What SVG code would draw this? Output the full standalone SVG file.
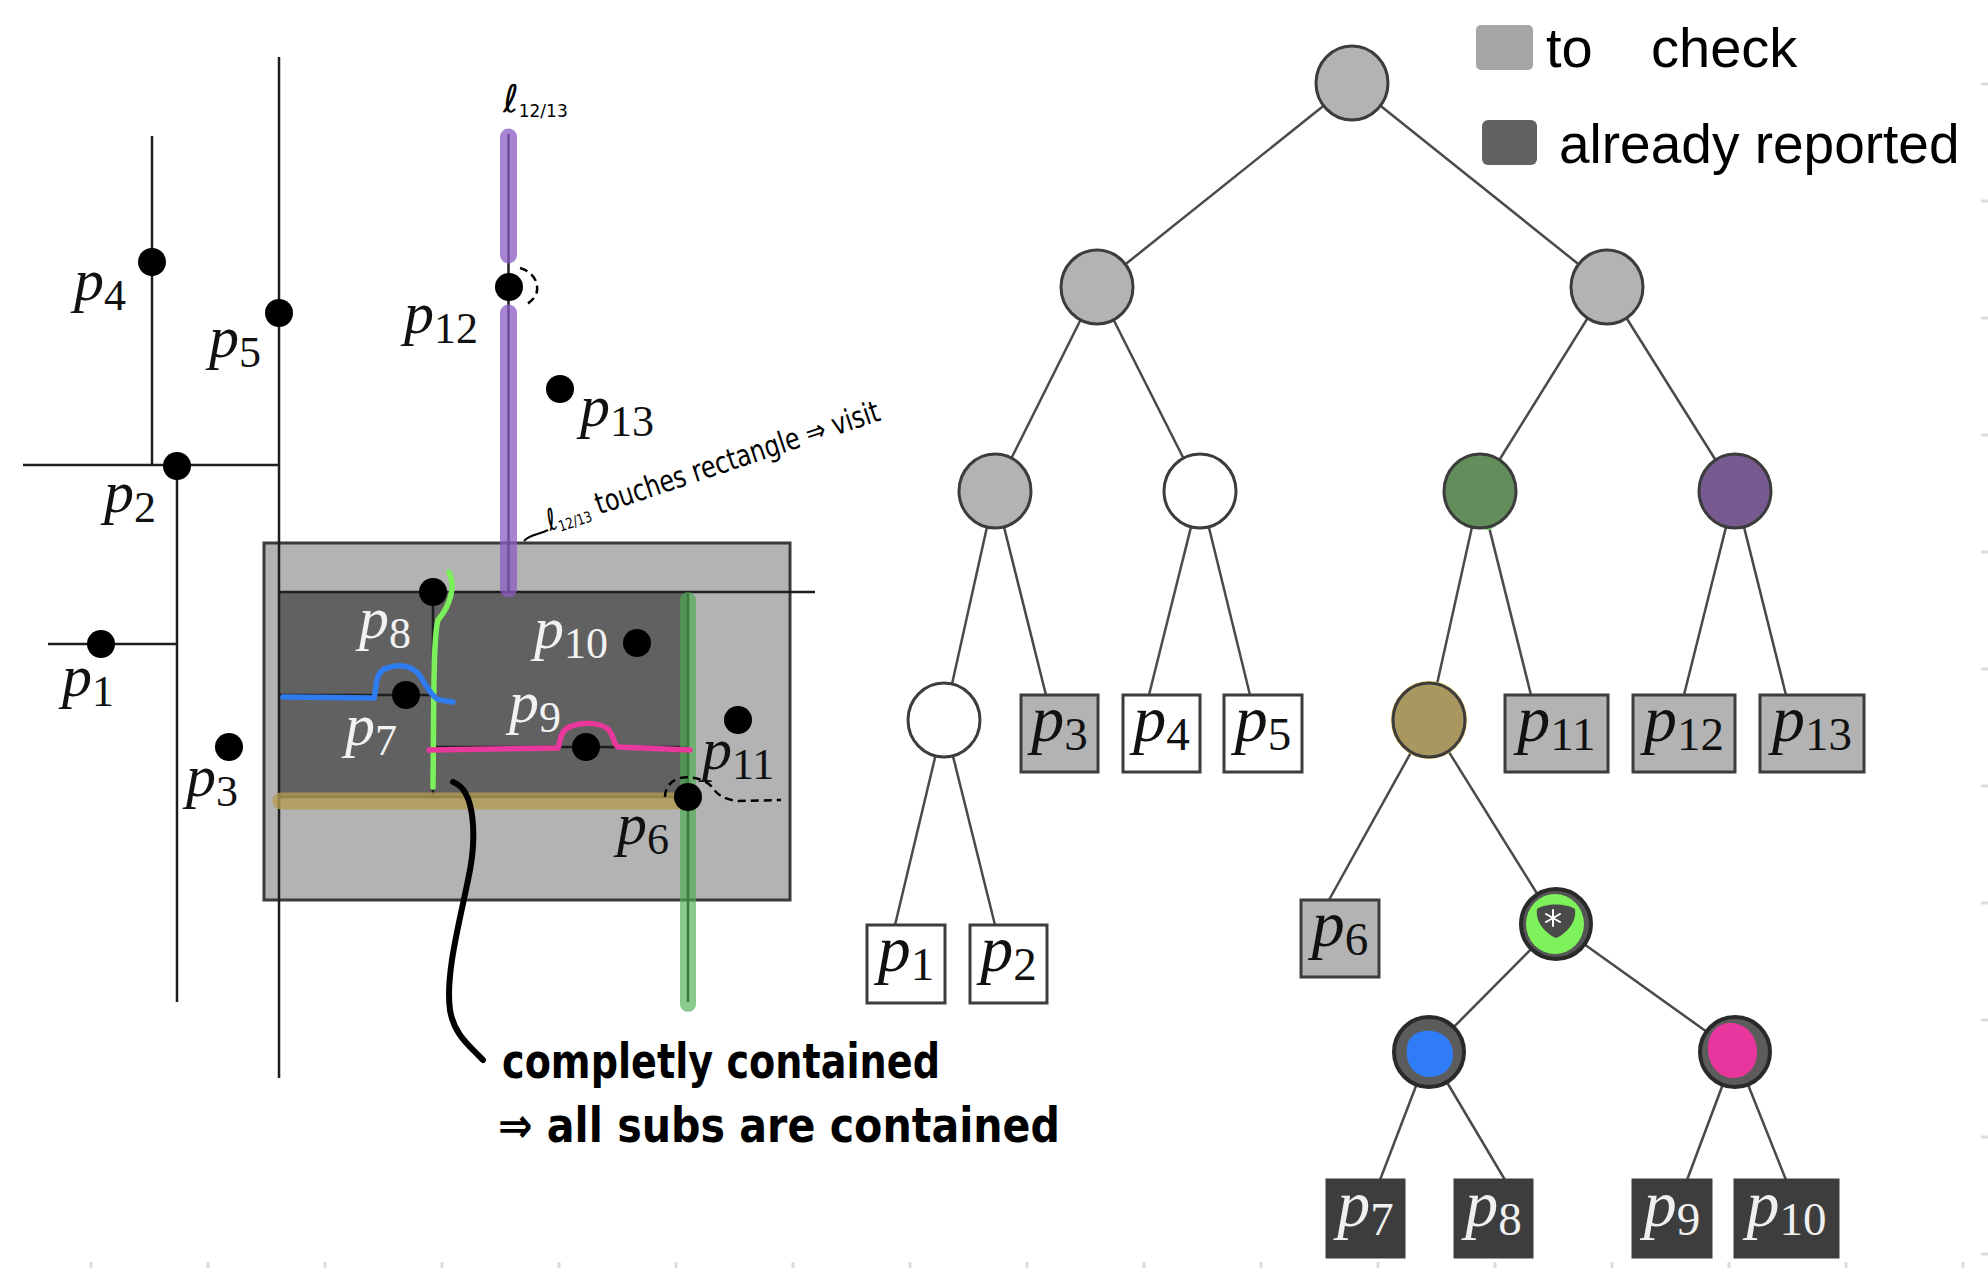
<svg xmlns="http://www.w3.org/2000/svg" width="1988" height="1268" viewBox="0 0 1988 1268">
<style>
.ln{stroke:#1e1e1e;stroke-width:2.5;fill:none}
.edge{stroke:#4a4a4a;stroke-width:2.5}
.pt{fill:#000}
.lbl{font-family:"Liberation Serif",serif;font-size:60px;fill:#111}
.lbl.w{fill:#f2f2f2}
.it{font-style:italic}
.sub{font-size:44px}
.bl{font-family:"Liberation Serif",serif;font-size:66px;fill:#111;text-anchor:middle}
.bl.w{fill:#f0f0f0}
.bsub{font-size:47px}
.node{stroke:#3c3c3c;stroke-width:3}
.gray{fill:#b3b3b3}
.white{fill:#fff}
.dark{fill:#3d3d3d}
.hw{font-family:"DejaVu Sans",sans-serif;fill:#000}
.lg{font-family:"Liberation Sans",Arial,sans-serif;fill:#000}
.dash{stroke:#000;stroke-width:2.5;fill:none;stroke-dasharray:8 5}
.tick{stroke:#dcdcdc;stroke-width:3}
</style>
<rect width="1988" height="1268" fill="#fff"/>

<!-- faint notebook ticks -->
<g id="ticks">
<line class="tick" x1="91" y1="1262" x2="91" y2="1268"/><line class="tick" x1="208" y1="1262" x2="208" y2="1268"/><line class="tick" x1="325" y1="1262" x2="325" y2="1268"/><line class="tick" x1="442" y1="1262" x2="442" y2="1268"/><line class="tick" x1="559" y1="1262" x2="559" y2="1268"/><line class="tick" x1="676" y1="1262" x2="676" y2="1268"/><line class="tick" x1="793" y1="1262" x2="793" y2="1268"/><line class="tick" x1="910" y1="1262" x2="910" y2="1268"/><line class="tick" x1="1027" y1="1262" x2="1027" y2="1268"/><line class="tick" x1="1144" y1="1262" x2="1144" y2="1268"/><line class="tick" x1="1261" y1="1262" x2="1261" y2="1268"/><line class="tick" x1="1378" y1="1262" x2="1378" y2="1268"/><line class="tick" x1="1495" y1="1262" x2="1495" y2="1268"/><line class="tick" x1="1612" y1="1262" x2="1612" y2="1268"/><line class="tick" x1="1729" y1="1262" x2="1729" y2="1268"/><line class="tick" x1="1846" y1="1262" x2="1846" y2="1268"/><line class="tick" x1="1963" y1="1262" x2="1963" y2="1268"/>
<line class="tick" x1="1981" y1="84" x2="1988" y2="84"/><line class="tick" x1="1981" y1="201" x2="1988" y2="201"/><line class="tick" x1="1981" y1="318" x2="1988" y2="318"/><line class="tick" x1="1981" y1="435" x2="1988" y2="435"/><line class="tick" x1="1981" y1="552" x2="1988" y2="552"/><line class="tick" x1="1981" y1="669" x2="1988" y2="669"/><line class="tick" x1="1981" y1="786" x2="1988" y2="786"/><line class="tick" x1="1981" y1="903" x2="1988" y2="903"/><line class="tick" x1="1981" y1="1020" x2="1988" y2="1020"/><line class="tick" x1="1981" y1="1137" x2="1988" y2="1137"/><line class="tick" x1="1981" y1="1254" x2="1988" y2="1254"/>
</g>

<!-- ============ LEFT: kd subdivision ============ -->
<g id="subdivision">
<rect x="264" y="543" width="526" height="357" fill="#b3b3b3" stroke="#3a3a3a" stroke-width="3"/>
<rect x="279" y="592" width="409" height="205" fill="#616161"/>
<line class="ln" x1="279" y1="57" x2="279" y2="1078"/>
<line class="ln" x1="152" y1="136" x2="152" y2="465"/>
<line class="ln" x1="23" y1="465" x2="279" y2="465"/>
<line class="ln" x1="177" y1="465" x2="177" y2="1002"/>
<line class="ln" x1="48" y1="644" x2="177" y2="644"/>
<line class="ln" x1="279" y1="592" x2="815" y2="592"/>
<line class="ln" x1="688" y1="592" x2="688" y2="1002"/>
<line class="ln" x1="279" y1="797" x2="688" y2="797"/>
<line class="ln" x1="433" y1="592" x2="433" y2="797"/>
<line class="ln" x1="279" y1="695" x2="433" y2="695"/>
<line class="ln" x1="433" y1="747" x2="688" y2="747"/>
<line class="ln" x1="508.5" y1="134" x2="508.5" y2="592"/>
</g>

<g id="highlights">
<g stroke="#8a5cc4" stroke-opacity="0.75" stroke-width="17" stroke-linecap="round">
<line x1="508.5" y1="137" x2="508.5" y2="255"/>
<line x1="508.5" y1="313" x2="508.5" y2="589"/>
</g>
<line x1="688" y1="600" x2="688" y2="1004" stroke="#4caf50" stroke-opacity="0.65" stroke-width="16" stroke-linecap="round"/>
<line x1="281" y1="801" x2="692" y2="801" stroke="#b39b50" stroke-opacity="0.8" stroke-width="17" stroke-linecap="round"/>
<path d="M449,572 C456,586 450,606 438,620 C433,640 434,700 433,787" stroke="#7cf05a" stroke-width="5.5" fill="none" stroke-linecap="round"/>
<path d="M283,697 L374,698 C377,688 374,672 387,668 C396,665 408,664 418,673 C424,681 428,692 437,699 C443,701 448,701 453,702" stroke="#2f7cf0" stroke-width="5.5" fill="none" stroke-linecap="round"/>
<path d="M429,750 L558,748 C561,741 559,730 572,726 C583,722 598,722 608,729 C614,735 613,744 618,747 L690,750" stroke="#e8389c" stroke-width="5.5" fill="none" stroke-linecap="round"/>
</g>

<g id="points">
<circle class="pt" cx="152" cy="262" r="14"/>
<circle class="pt" cx="279" cy="313" r="14"/>
<circle class="pt" cx="509" cy="287" r="14"/>
<circle class="pt" cx="560" cy="389" r="14"/>
<circle class="pt" cx="177" cy="466" r="14"/>
<circle class="pt" cx="101" cy="644" r="14"/>
<circle class="pt" cx="229" cy="747" r="14"/>
<circle class="pt" cx="433" cy="592" r="14"/>
<circle class="pt" cx="637" cy="643" r="14"/>
<circle class="pt" cx="406" cy="695" r="14"/>
<circle class="pt" cx="586" cy="747" r="14"/>
<circle class="pt" cx="738" cy="720" r="14"/>
<circle class="pt" cx="688" cy="797" r="14"/>
</g>

<g id="point-labels">
<text class="lbl" x="74" y="300"><tspan class="it">p</tspan><tspan class="sub" dy="10">4</tspan></text>
<text class="lbl" x="209" y="357"><tspan class="it">p</tspan><tspan class="sub" dy="10">5</tspan></text>
<text class="lbl" x="404" y="333"><tspan class="it">p</tspan><tspan class="sub" dy="10">12</tspan></text>
<text class="lbl" x="580" y="426"><tspan class="it">p</tspan><tspan class="sub" dy="10">13</tspan></text>
<text class="lbl" x="104" y="512"><tspan class="it">p</tspan><tspan class="sub" dy="10">2</tspan></text>
<text class="lbl" x="62" y="696"><tspan class="it">p</tspan><tspan class="sub" dy="10">1</tspan></text>
<text class="lbl" x="186" y="796"><tspan class="it">p</tspan><tspan class="sub" dy="10">3</tspan></text>
<text class="lbl w" x="359" y="638"><tspan class="it">p</tspan><tspan class="sub" dy="10">8</tspan></text>
<text class="lbl w" x="534" y="648"><tspan class="it">p</tspan><tspan class="sub" dy="10">10</tspan></text>
<text class="lbl w" x="345" y="745"><tspan class="it">p</tspan><tspan class="sub" dy="10">7</tspan></text>
<text class="lbl w" x="509" y="722"><tspan class="it">p</tspan><tspan class="sub" dy="10">9</tspan></text>
<text class="lbl" x="702" y="769"><tspan class="it">p</tspan><tspan class="sub" dy="10">11</tspan></text>
<text class="lbl" x="617" y="844"><tspan class="it">p</tspan><tspan class="sub" dy="10">6</tspan></text>
</g>

<g id="annotations">
<path class="dash" d="M520,268 C534,272 540,284 536,295 C533,300 529,303 525,305"/>
<path class="dash" d="M665,797 C665,788 670,781 680,778 C690,776 704,778 712,787 C717,794 722,799 738,801 L781,800"/>
<path d="M453,782 C476,790 477,840 468,880 C460,920 445,975 450,1010 C454,1035 470,1046 483,1060" stroke="#000" stroke-width="6" fill="none" stroke-linecap="round"/>
<path d="M524,541 C530,534 538,535 548,530" stroke="#000" stroke-width="2" fill="none"/>
<text class="hw" x="503" y="112" font-size="38">ℓ<tspan font-size="17" dy="5">12/13</tspan></text>
<text class="hw" transform="translate(550,531) rotate(-18.5)" font-size="30" textLength="350" lengthAdjust="spacingAndGlyphs">ℓ<tspan font-size="15" dy="4">12/13</tspan><tspan dy="-4"> touches  rectangle ⇒ visit</tspan></text>
<text class="hw" x="502" y="1078" font-size="48" font-weight="bold" textLength="438" lengthAdjust="spacingAndGlyphs">completly contained</text>
<text class="hw" x="498" y="1142" font-size="48" font-weight="bold" textLength="562" lengthAdjust="spacingAndGlyphs">⇒ all subs are contained</text>
</g>

<!-- ============ LEGEND ============ -->
<g id="legend">
<rect x="1476" y="25" width="57" height="45" rx="5" fill="#a6a6a6"/>
<rect x="1482" y="120" width="55" height="45" rx="6" fill="#626262"/>
<text class="lg" x="1546" y="67" font-size="56">to</text>
<text class="lg" x="1651" y="67" font-size="56">check</text>
<text class="lg" x="1559" y="163" font-size="55">already reported</text>
</g>

<!-- ============ TREE ============ -->
<g id="connectors">
<line class="edge" x1="1352" y1="83" x2="1097" y2="287"/>
<line class="edge" x1="1352" y1="83" x2="1607" y2="287"/>
<line class="edge" x1="1097" y1="287" x2="995" y2="491"/>
<line class="edge" x1="1097" y1="287" x2="1200" y2="491"/>
<line class="edge" x1="1607" y1="287" x2="1480" y2="491"/>
<line class="edge" x1="1607" y1="287" x2="1735" y2="491"/>
<line class="edge" x1="995" y1="491" x2="944" y2="720"/>
<line class="edge" x1="995" y1="491" x2="1046" y2="695"/>
<line class="edge" x1="1200" y1="491" x2="1149" y2="695"/>
<line class="edge" x1="1200" y1="491" x2="1250" y2="695"/>
<line class="edge" x1="1480" y1="491" x2="1429" y2="720"/>
<line class="edge" x1="1480" y1="491" x2="1531" y2="695"/>
<line class="edge" x1="1735" y1="491" x2="1684" y2="695"/>
<line class="edge" x1="1735" y1="491" x2="1786" y2="695"/>
<line class="edge" x1="944" y1="720" x2="895" y2="925"/>
<line class="edge" x1="944" y1="720" x2="995" y2="925"/>
<line class="edge" x1="1429" y1="720" x2="1329" y2="900"/>
<line class="edge" x1="1429" y1="720" x2="1556" y2="924"/>
<line class="edge" x1="1556" y1="924" x2="1429" y2="1052"/>
<line class="edge" x1="1556" y1="924" x2="1735" y2="1052"/>
<line class="edge" x1="1429" y1="1052" x2="1380" y2="1180"/>
<line class="edge" x1="1429" y1="1052" x2="1505" y2="1180"/>
<line class="edge" x1="1735" y1="1052" x2="1687" y2="1180"/>
<line class="edge" x1="1735" y1="1052" x2="1786" y2="1180"/>
</g>

<g id="n-root"><ellipse class="node gray" cx="1352" cy="83" rx="36" ry="37"/></g>
<g id="n-l"><ellipse class="node gray" cx="1097" cy="287" rx="36" ry="37"/></g>
<g id="n-r"><ellipse class="node gray" cx="1607" cy="287" rx="36" ry="37"/></g>
<g id="n-ll"><ellipse class="node gray" cx="995" cy="491" rx="36" ry="37"/></g>
<g id="n-lr"><ellipse class="node white" cx="1200" cy="491" rx="36" ry="37"/></g>
<g id="n-rl"><circle cx="1488" cy="523" r="7" fill="#7fe07a"/><ellipse class="node" cx="1480" cy="491" rx="36" ry="37" fill="#638e5c" stroke="#1e1e1e"/></g>
<g id="n-rr"><ellipse class="node" cx="1735" cy="491" rx="36" ry="37" fill="#775a8f" stroke="#1e1e1e"/></g>
<g id="n-lll"><ellipse class="node white" cx="944" cy="720" rx="36" ry="37"/></g>
<g id="n-rll"><ellipse cx="1429" cy="720" rx="37" ry="38" fill="none" stroke="#e8c050" stroke-width="2"/><ellipse class="node" cx="1429" cy="720" rx="36" ry="37" fill="#a8975f" stroke="#2a2a2a"/></g>
<g id="n-rllr">
<circle cx="1556" cy="924" r="35" fill="#555" stroke="#2a2a2a" stroke-width="4"/>
<ellipse cx="1555" cy="924" rx="29" ry="30" fill="#7ef25a"/>
<path d="M1537,909 C1545,903 1566,903 1575,909 C1577,922 1566,934 1556,938 C1546,934 1535,922 1537,909 Z" fill="#4a4a4a"/>
<g stroke="#fff" stroke-width="2" stroke-linecap="round">
<line x1="1553" y1="910" x2="1553" y2="926"/>
<line x1="1546" y1="914" x2="1560" y2="922"/>
<line x1="1546" y1="922" x2="1560" y2="914"/>
</g>
</g>
<g id="n-blue"><circle cx="1429" cy="1052" r="35" fill="#5c5c5c" stroke="#2a2a2a" stroke-width="4"/><path d="M1407,1048 C1408,1034 1420,1030 1432,1031 C1446,1033 1454,1043 1453,1057 C1452,1070 1440,1078 1427,1077 C1413,1075 1405,1063 1407,1048 Z" fill="#2f7cf6"/></g>
<g id="n-pink"><circle cx="1735" cy="1052" r="35" fill="#5c5c5c" stroke="#2a2a2a" stroke-width="4"/><path d="M1708,1046 C1709,1030 1720,1022 1733,1023 C1748,1025 1757,1037 1757,1052 C1757,1068 1747,1078 1732,1078 C1717,1077 1707,1063 1708,1046 Z" fill="#e8369e"/></g>

<g id="leaf-p3"><rect class="node gray" x="1021" y="695" width="77" height="77"/><text class="bl" x="1059.5" y="741"><tspan class="it">p</tspan><tspan class="bsub" dy="9">3</tspan></text></g>
<g id="leaf-p4"><rect class="node white" x="1123" y="695" width="77" height="77"/><text class="bl" x="1161.5" y="741"><tspan class="it">p</tspan><tspan class="bsub" dy="9">4</tspan></text></g>
<g id="leaf-p5"><rect class="node white" x="1224" y="695" width="78" height="77"/><text class="bl" x="1263" y="741"><tspan class="it">p</tspan><tspan class="bsub" dy="9">5</tspan></text></g>
<g id="leaf-p11"><rect class="node gray" x="1505" y="695" width="103" height="77"/><text class="bl" x="1556.5" y="741"><tspan class="it">p</tspan><tspan class="bsub" dy="9">11</tspan></text></g>
<g id="leaf-p12"><rect class="node gray" x="1633" y="695" width="102" height="77"/><text class="bl" x="1684" y="741"><tspan class="it">p</tspan><tspan class="bsub" dy="9">12</tspan></text></g>
<g id="leaf-p13"><rect class="node gray" x="1760" y="695" width="104" height="77"/><text class="bl" x="1812" y="741"><tspan class="it">p</tspan><tspan class="bsub" dy="9">13</tspan></text></g>
<g id="leaf-p1"><rect class="node white" x="867" y="925" width="78" height="78"/><text class="bl" x="906" y="971"><tspan class="it">p</tspan><tspan class="bsub" dy="9">1</tspan></text></g>
<g id="leaf-p2"><rect class="node white" x="970" y="925" width="77" height="78"/><text class="bl" x="1008.5" y="971"><tspan class="it">p</tspan><tspan class="bsub" dy="9">2</tspan></text></g>
<g id="leaf-p6"><rect class="node gray" x="1301" y="900" width="78" height="77"/><text class="bl" x="1340" y="946"><tspan class="it">p</tspan><tspan class="bsub" dy="9">6</tspan></text></g>
<g id="leaf-p7"><rect class="node dark" x="1327" y="1180" width="77" height="77"/><text class="bl w" x="1365.5" y="1226"><tspan class="it">p</tspan><tspan class="bsub" dy="9">7</tspan></text></g>
<g id="leaf-p8"><rect class="node dark" x="1455" y="1180" width="77" height="77"/><text class="bl w" x="1493.5" y="1226"><tspan class="it">p</tspan><tspan class="bsub" dy="9">8</tspan></text></g>
<g id="leaf-p9"><rect class="node dark" x="1633" y="1180" width="78" height="77"/><text class="bl w" x="1672" y="1226"><tspan class="it">p</tspan><tspan class="bsub" dy="9">9</tspan></text></g>
<g id="leaf-p10"><rect class="node dark" x="1735" y="1180" width="103" height="77"/><text class="bl w" x="1786.5" y="1226"><tspan class="it">p</tspan><tspan class="bsub" dy="9">10</tspan></text></g>
</svg>
